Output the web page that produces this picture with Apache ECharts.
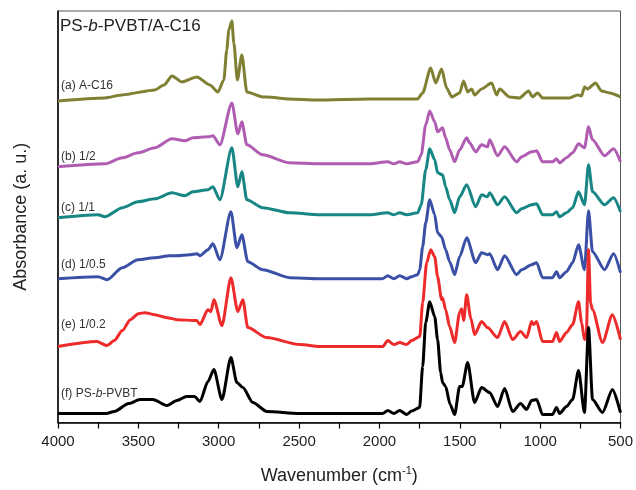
<!DOCTYPE html>
<html>
<head>
<meta charset="utf-8">
<script src="https://cdn.jsdelivr.net/npm/echarts@6/dist/echarts.min.js"></script>
<style>html,body{margin:0;padding:0;background:#fff;}#chart{width:636px;height:490px;}</style>
</head>
<body>
<div id="chart"></div>
<script>
// ---- data: [wavenumber (cm-1), stacked absorbance (a.u.)] ----
var specA = [[4000,3.22],[3708,3.25],[3602,3.28],[3397,3.33],[3340,3.38],[3291,3.47],[3229,3.41],[3136,3.46],[3055,3.38],[3005,3.31],[2968,3.43],[2950,3.73],[2937,3.93],[2918,4.02],[2906,3.80],[2884,3.43],[2856,3.68],[2825,3.31],[2726,3.26],[2701,3.26],[2558,3.24],[2390,3.23],[2060,3.24],[1762,3.24],[1731,3.30],[1681,3.55],[1650,3.40],[1613,3.54],[1582,3.35],[1550,3.26],[1501,3.30],[1476,3.42],[1451,3.31],[1426,3.34],[1408,3.28],[1364,3.34],[1302,3.40],[1271,3.28],[1252,3.34],[1190,3.26],[1128,3.25],[1072,3.32],[1047,3.26],[1016,3.30],[985,3.25],[817,3.25],[767,3.28],[742,3.27],[724,3.36],[705,3.34],[655,3.40],[618,3.32],[568,3.30],[500,3.26]];
var specB = [[4000,2.56],[3708,2.59],[3600,2.65],[3503,2.70],[3397,2.75],[3291,2.84],[3210,2.82],[3161,2.85],[3067,2.86],[3036,2.87],[2993,2.78],[2918,3.20],[2881,2.89],[2856,3.01],[2825,2.78],[2726,2.68],[2558,2.60],[2371,2.59],[2060,2.59],[1948,2.61],[1910,2.59],[1874,2.61],[1830,2.59],[1762,2.61],[1740,2.68],[1712,2.98],[1687,3.12],[1656,3.01],[1638,2.91],[1607,2.95],[1588,2.85],[1563,2.73],[1532,2.61],[1501,2.73],[1457,2.85],[1439,2.80],[1401,2.71],[1364,2.78],[1327,2.76],[1314,2.83],[1265,2.67],[1221,2.76],[1146,2.61],[1115,2.66],[1053,2.71],[1022,2.72],[985,2.61],[923,2.61],[898,2.64],[879,2.60],[836,2.65],[798,2.70],[761,2.79],[724,2.75],[699,2.96],[674,2.83],[599,2.67],[543,2.74],[500,2.61]];
var specC = [[4000,2.05],[3751,2.08],[3708,2.06],[3600,2.15],[3503,2.21],[3397,2.24],[3291,2.30],[3210,2.27],[3161,2.31],[3067,2.33],[3036,2.36],[2993,2.23],[2918,2.75],[2881,2.36],[2856,2.51],[2825,2.23],[2726,2.15],[2558,2.10],[2371,2.08],[2060,2.08],[1948,2.10],[1910,2.08],[1874,2.10],[1830,2.08],[1762,2.10],[1740,2.18],[1712,2.53],[1687,2.74],[1656,2.63],[1638,2.50],[1607,2.48],[1588,2.36],[1563,2.23],[1532,2.10],[1501,2.26],[1457,2.38],[1401,2.16],[1364,2.28],[1327,2.26],[1314,2.30],[1265,2.18],[1221,2.26],[1146,2.10],[1115,2.14],[1053,2.18],[1022,2.19],[985,2.08],[923,2.08],[898,2.11],[879,2.06],[836,2.10],[798,2.15],[761,2.31],[724,2.18],[699,2.58],[674,2.31],[599,2.18],[543,2.25],[500,2.11]];
var specD = [[4000,1.44],[3751,1.46],[3695,1.43],[3600,1.55],[3503,1.63],[3400,1.65],[3304,1.67],[3260,1.67],[3179,1.68],[3136,1.69],[3117,1.67],[3067,1.73],[3036,1.79],[2993,1.63],[2924,2.11],[2887,1.75],[2856,1.88],[2819,1.61],[2726,1.53],[2558,1.45],[2371,1.44],[1980,1.44],[1948,1.47],[1910,1.44],[1874,1.47],[1830,1.44],[1799,1.46],[1762,1.48],[1749,1.53],[1731,1.76],[1712,2.00],[1687,2.23],[1656,2.08],[1638,1.90],[1613,1.86],[1588,1.73],[1563,1.61],[1532,1.48],[1501,1.66],[1457,1.85],[1401,1.60],[1364,1.70],[1327,1.68],[1314,1.69],[1265,1.53],[1221,1.67],[1146,1.48],[1115,1.53],[1053,1.58],[1022,1.60],[985,1.45],[923,1.45],[898,1.51],[879,1.45],[836,1.51],[798,1.60],[761,1.78],[724,1.53],[699,2.12],[674,1.71],[599,1.53],[543,1.69],[500,1.50]];
var specE = [[4000,0.76],[3758,0.81],[3695,0.77],[3650,0.82],[3600,0.92],[3550,1.03],[3500,1.09],[3459,1.10],[3400,1.08],[3322,1.05],[3260,1.03],[3136,1.02],[3117,0.98],[3067,1.13],[3049,1.11],[3030,1.23],[2980,0.97],[2924,1.45],[2881,1.11],[2850,1.23],[2819,0.95],[2701,0.85],[2495,0.78],[2371,0.76],[1980,0.76],[1948,0.82],[1910,0.78],[1874,0.80],[1830,0.78],[1799,0.82],[1749,0.86],[1731,1.20],[1706,1.60],[1681,1.73],[1656,1.66],[1638,1.46],[1613,1.23],[1607,1.25],[1588,1.13],[1563,0.96],[1532,0.80],[1501,1.10],[1488,1.14],[1476,1.02],[1457,1.28],[1432,1.05],[1408,0.88],[1364,1.01],[1327,0.95],[1265,0.85],[1221,1.01],[1171,0.83],[1122,0.91],[1084,0.85],[1053,1.01],[1040,0.98],[1022,1.01],[985,0.81],[923,0.81],[898,0.90],[879,0.81],[836,0.90],[798,0.98],[761,1.21],[742,1.00],[724,0.83],[712,0.90],[699,1.73],[686,1.20],[674,1.13],[612,0.80],[550,1.08],[500,0.83]];
var specF = [[4000,0.09],[3700,0.09],[3650,0.11],[3560,0.19],[3490,0.23],[3410,0.23],[3322,0.17],[3260,0.22],[3200,0.26],[3150,0.26],[3117,0.21],[3067,0.41],[3030,0.53],[2980,0.23],[2924,0.65],[2887,0.40],[2850,0.35],[2788,0.20],[2700,0.11],[2500,0.09],[2060,0.09],[1980,0.09],[1948,0.12],[1910,0.09],[1874,0.12],[1830,0.08],[1799,0.115],[1750,0.15],[1731,0.56],[1712,1.00],[1687,1.21],[1656,1.06],[1638,0.83],[1619,0.50],[1607,0.40],[1588,0.36],[1560,0.18],[1532,0.08],[1501,0.36],[1485,0.36],[1451,0.60],[1408,0.20],[1364,0.35],[1314,0.30],[1265,0.16],[1221,0.34],[1171,0.11],[1122,0.19],[1084,0.13],[1053,0.22],[1022,0.23],[985,0.08],[923,0.08],[898,0.15],[879,0.09],[836,0.16],[798,0.23],[761,0.52],[724,0.10],[699,0.95],[674,0.23],[612,0.10],[550,0.33],[500,0.10]];
var seriesNames = ['(a) A-C16', '(b) 1/2', '(c) 1/1', '(d) 1/0.5', '(e) 1/0.2', '(f) PS-b-PVBT'];
var xTicks = [4000, 3500, 3000, 2500, 2000, 1500, 1000, 500];

// ---- styles ----
var colors = ['#808034', '#b05cb2', '#178684', '#3a4fa6', '#ee2b2b', '#000000'];
var FONT = '"Liberation Sans", Arial, sans-serif';
var specs = [specA, specB, specC, specD, specE, specF];
var labelY = [84, 155, 206, 263, 323, 392];

var chart = echarts.init(document.getElementById('chart'), null, {renderer: 'canvas'});

var series = specs.map(function (d, i) {
  return {
    name: seriesNames[i], type: 'line', data: d, showSymbol: false, symbol: 'none',
    smooth: 0.25, smoothMonotone: 'x',
    lineStyle: {color: colors[i], width: 3}, z: 3 + i, animation: false
  };
});

function richLabel(t) {
  var m = t.split('-b-');
  if (m.length === 2) return '{n|' + m[0] + '-}{i|b}{n|-' + m[1] + '}';
  return '{n|' + t + '}';
}

var graphics = seriesNames.map(function (t, i) {
  return {
    type: 'text', left: 61, top: labelY[i] - 4, z: 20,
    style: {
      text: richLabel(t), fill: '#333',
      rich: {
        n: {fontSize: 12, fontFamily: FONT, fill: '#333'},
        i: {fontSize: 12, fontFamily: FONT, fontStyle: 'italic', fill: '#333'}
      }
    }
  };
});
graphics.push({
  type: 'text', left: 60, top: 18, z: 20,
  style: {
    text: '{n|PS-}{i|b}{n|-PVBT/A-C16}',
    rich: {
      n: {fontSize: 17, fontFamily: FONT, fill: '#222'},
      i: {fontSize: 17, fontFamily: FONT, fontStyle: 'italic', fill: '#222'}
    }
  }
});

chart.setOption({
  animation: false,
  backgroundColor: '#fff',
  grid: {left: 58, right: 15, top: 11, bottom: 67, show: true, borderColor: '#555', borderWidth: 1},
  xAxis: {
    type: 'value', min: 500, max: 4000, interval: 250, inverse: true,
    axisLine: {show: true, onZero: false, lineStyle: {color: '#000', width: 1.5}},
    axisTick: {show: true, length: 6, lineStyle: {color: '#000', width: 1.2}},
    splitLine: {show: false},
    axisLabel: {
      color: '#222', fontSize: 15, fontFamily: FONT, margin: 12,
      formatter: function (v) { return xTicks.indexOf(v) >= 0 ? String(v) : ''; }
    },
    name: 'Wavenumber (cm{sup|-1})', nameLocation: 'middle', nameGap: 43,
    nameTextStyle: {
      fontSize: 18, fontFamily: FONT, color: '#222',
      rich: {sup: {fontSize: 11, fontFamily: FONT, color: '#222', padding: [0, 0, 10, 0]}}
    }
  },
  yAxis: {
    type: 'value', min: 0, max: 4.12,
    axisLine: {show: true, lineStyle: {color: '#000', width: 1.5}},
    axisTick: {show: false}, axisLabel: {show: false}, splitLine: {show: false},
    name: 'Absorbance (a. u.)', nameLocation: 'middle', nameGap: 28,
    nameTextStyle: {fontSize: 18, fontFamily: FONT, color: '#222'}
  },
  series: series,
  graphic: graphics
});
</script>
</body>
</html>
